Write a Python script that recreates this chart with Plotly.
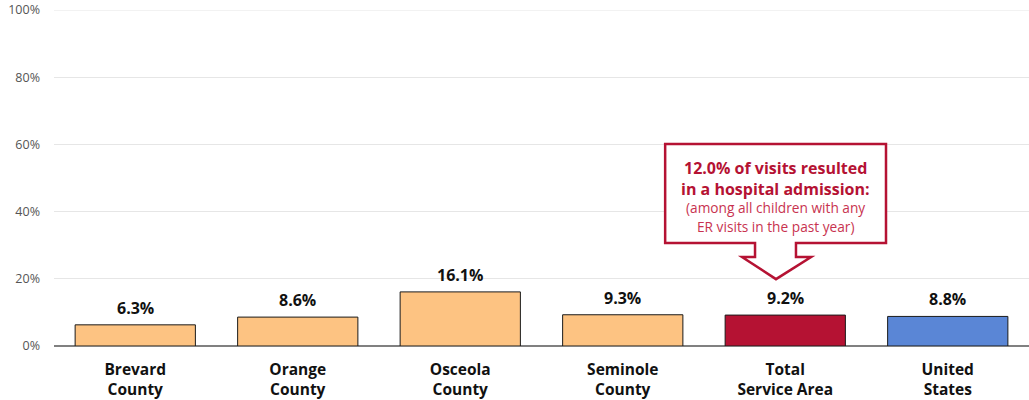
import plotly.graph_objects as go

categories = ["Brevard<br>County", "Orange<br>County", "Osceola<br>County",
              "Seminole<br>County", "Total<br>Service Area", "United<br>States"]
values = [6.3, 8.6, 16.1, 9.3, 9.2, 8.8]
value_labels = ["6.3%", "8.6%", "16.1%", "9.3%", "9.2%", "8.8%"]
bar_colors = ["#FDC382", "#FDC382", "#FDC382", "#FDC382", "#B51233", "#5A86D6"]
y_ticks = [0, 20, 40, 60, 80, 100]
y_tick_labels = ["0%", "20%", "40%", "60%", "80%", "100%"]

callout_title = ["12.0% of visits resulted", "in a hospital admission:"]
callout_sub = ["(among all children with any", "ER visits in the past year)"]

FONT = "Open Sans"
CRIMSON = "#B51233"
GRID = "#E6E6E6"

x_idx = list(range(len(categories)))

fig = go.Figure()
fig.add_trace(go.Bar(
    x=x_idx, y=values, width=0.74,
    marker=dict(color=bar_colors, line=dict(color="#1a1a1a", width=1)),
    hoverinfo="skip",
))

for xi, v, lab in zip(x_idx, values, value_labels):
    fig.add_annotation(x=xi, y=v, xref="x", yref="y", text="<b>" + lab + "</b>",
                       showarrow=False, yanchor="bottom", yshift=4,
                       font=dict(family=FONT, size=16, color="#111111"))

# top gridline (plotly skips the grid line at the range edge)
fig.add_shape(type="line", xref="paper", yref="y", x0=0, x1=1, y0=y_ticks[-1], y1=y_ticks[-1],
              line=dict(color=GRID, width=1), layer="below")

# callout box with arrow (data coordinates)
path = ("M 3.261,60.1 L 4.620,60.1 L 4.620,30.65 L 4.066,30.65 L 4.066,26.5 "
        "L 4.159,26.5 L 3.943,19.9 L 3.734,26.5 L 3.814,26.5 L 3.814,30.65 "
        "L 3.261,30.65 Z")
fig.add_shape(type="path", path=path, xref="x", yref="y",
              line=dict(color=CRIMSON, width=2.5), fillcolor="white", layer="above")

cx = 3.94
for txt, yy in zip(callout_title, [53.0, 46.7]):
    fig.add_annotation(x=cx, y=yy, xref="x", yref="y", text="<b>" + txt + "</b>",
                       showarrow=False, font=dict(family=FONT, size=16, color=CRIMSON))
for txt, yy in zip(callout_sub, [41.1, 35.7]):
    fig.add_annotation(x=cx, y=yy, xref="x", yref="y", text=txt,
                       showarrow=False, font=dict(family=FONT, size=13.7, color="#C8334F"))

fig.update_layout(
    width=1029, height=400,
    margin=dict(l=54, r=0, t=10, b=54),
    paper_bgcolor="white", plot_bgcolor="white",
    showlegend=False,
    font=dict(family=FONT),
    xaxis=dict(range=[-0.5, 5.5], tickvals=x_idx, automargin=False,
               ticktext=["<b>" + c + "</b>" for c in categories],
               tickfont=dict(family=FONT, size=15.5, color="#111111"),
               showgrid=False, zeroline=False, showline=False, ticks="",
               ticklabelstandoff=12),
    yaxis=dict(range=[0, 100], tickvals=y_ticks, ticktext=y_tick_labels, automargin=False,
               tickfont=dict(family=FONT, size=12.5, color="#555555"),
               ticklabeloverflow="allow",
               showgrid=True, gridcolor=GRID, gridwidth=1,
               zeroline=True, zerolinecolor="#808080", zerolinewidth=1.5,
               showline=False, ticks="", ticklabelstandoff=13),
)

fig.write_html("out.html", config={"displayModeBar": False},
               post_script="document.body.style.margin='0';document.body.style.overflow='hidden';")
